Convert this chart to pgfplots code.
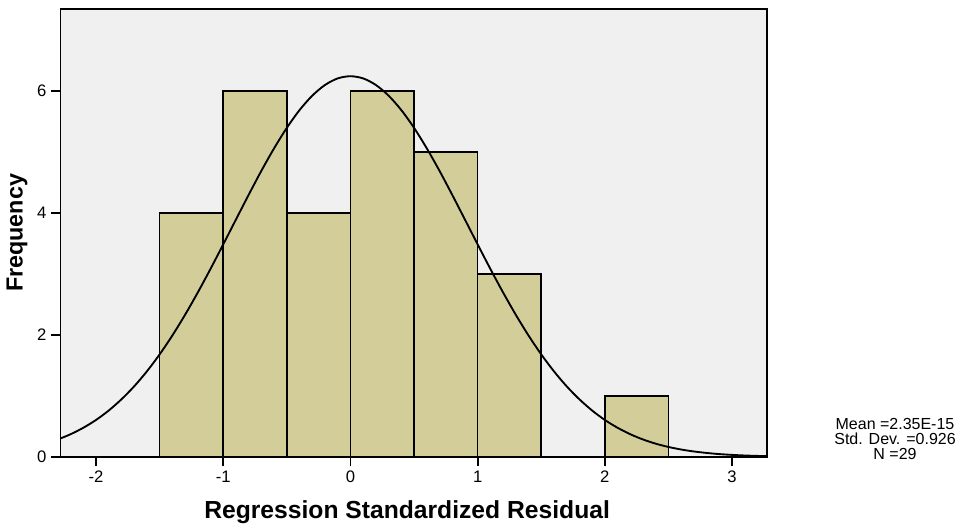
\documentclass[border=0pt]{standalone}
\usepackage{fontspec}
\setmainfont{Liberation Sans}
\usepackage{pgfplots}
\pgfplotsset{compat=1.18}
\definecolor{barkhaki}{RGB}{211,206,153}
\definecolor{panelgray}{RGB}{240,240,240}

\begin{document}
\begin{tikzpicture}
\begin{axis}[
  scale only axis, width=530pt, height=336pt,
  xmin=-2.279, xmax=3.275, ymin=0, ymax=7.35,
  axis background/.style={fill=panelgray},
  axis line style={black, line width=1.3pt},
  xtick={-2,-1,0,1,2,3}, xticklabels={-2,-1,0,1,2,3},
  ytick={0,2,4,6}, yticklabels={0,2,4,6},
  xtick pos=bottom, ytick pos=left, tick align=outside,
  major tick length=7pt, tick style={black, line width=1.3pt},
  tick label style={font=\fontsize{12.5}{12.5}\selectfont},
  axis on top,
]
\addplot[ybar interval, fill=barkhaki, draw=black, line width=1.2pt] coordinates
  {(-1.5,4) (-1,6) (-0.5,4) (0,6) (0.5,5) (1,3) (1.5,0) (2,1) (2.5,1)};
% normal curve, mean 0, sd 0.926, scaled to N=29 and bin width 0.5
\addplot[black, line width=1.4pt, smooth, no marks] coordinates {
  (-2.3,0.286) (-2.2,0.372) (-2.1,0.478) (-2.0,0.606) (-1.9,0.761)
  (-1.8,0.945) (-1.7,1.158) (-1.6,1.404) (-1.5,1.682) (-1.4,1.992)
  (-1.3,2.332) (-1.2,2.698) (-1.1,3.085) (-1.0,3.487) (-0.9,3.895)
  (-0.8,4.301) (-0.7,4.695) (-0.6,5.064) (-0.5,5.400) (-0.4,5.691)
  (-0.3,5.928) (-0.2,6.103) (-0.1,6.211) (0,6.247)
  (0.1,6.211) (0.2,6.103) (0.3,5.928) (0.4,5.691) (0.5,5.400)
  (0.6,5.064) (0.7,4.695) (0.8,4.301) (0.9,3.895) (1.0,3.487)
  (1.1,3.085) (1.2,2.698) (1.3,2.332) (1.4,1.992) (1.5,1.682)
  (1.6,1.404) (1.7,1.158) (1.8,0.945) (1.9,0.761) (2.0,0.606)
  (2.1,0.478) (2.2,0.372) (2.3,0.286) (2.4,0.217) (2.5,0.163)
  (2.6,0.121) (2.7,0.089) (2.8,0.065) (2.9,0.046) (3.0,0.033)
  (3.1,0.023) (3.2,0.016) (3.3,0.011)};
\coordinate (sw) at (rel axis cs:0,0);
\coordinate (ne) at (rel axis cs:1,1);
\coordinate (ylab) at (rel axis cs:0,0.5);
\coordinate (xlab) at (rel axis cs:0.5,0);
\coordinate (se) at (rel axis cs:1,0);
\end{axis}
\node[rotate=90, font=\fontsize{17.5}{17.5}\selectfont\bfseries] at ([xshift=-32.6pt]ylab) {Frequency};
\node[anchor=base, font=\fontsize{18.5}{18.5}\selectfont\bfseries] at ([xshift=-5pt,yshift=-46.5pt]xlab) {Regression Standardized Residual};
\node[align=center, font=\fontsize{12}{11.3}\selectfont] at ([xshift=96pt,yshift=13.5pt]se)
  {Mean =2.35E-15\\Std. Dev. =0.926\\N =29};
\path[use as bounding box] ([xshift=-45.4pt,yshift=-48pt]sw) rectangle ([xshift=153pt,yshift=6.75pt]ne);
\end{tikzpicture}
\end{document}
